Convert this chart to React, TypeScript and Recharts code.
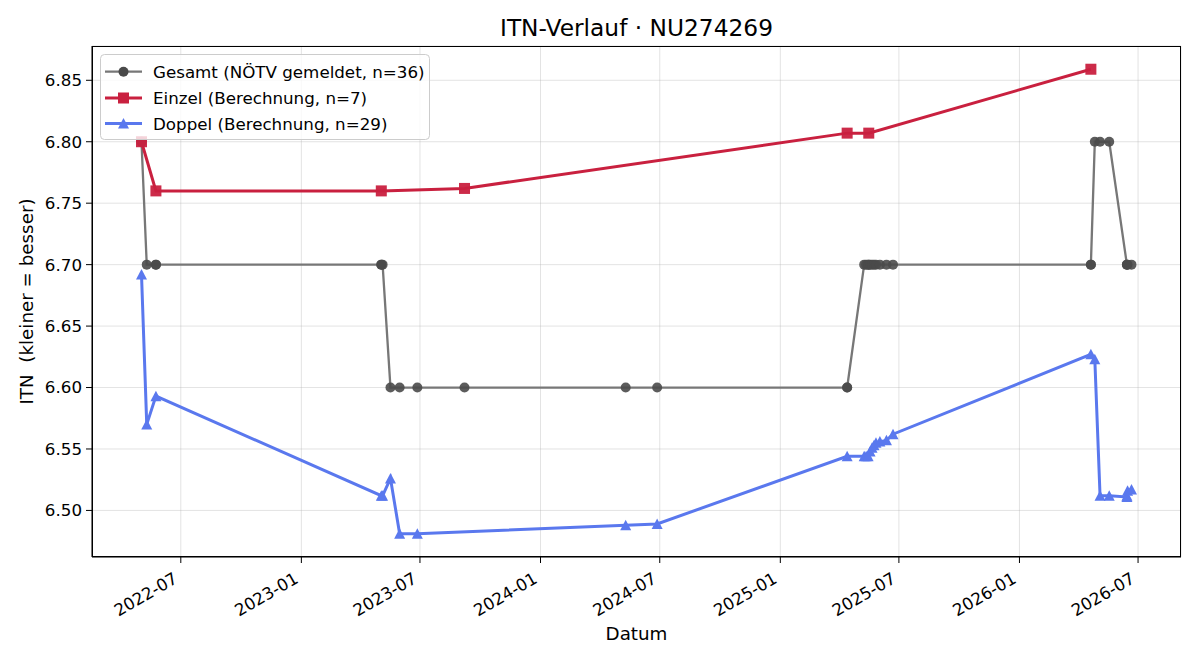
import { LineChart, Line, XAxis, YAxis, CartesianGrid } from "recharts";

// ITN history for player NU274269
const gesamtDates = [
  "2022-05-02", "2022-05-02", "2022-05-10", "2022-05-24", "2022-05-24",
  "2023-05-03", "2023-05-03", "2023-05-05", "2023-05-17", "2023-05-31",
  "2023-06-27", "2023-09-07", "2024-05-10", "2024-06-27", "2025-04-13",
  "2025-04-13", "2025-05-09", "2025-05-12", "2025-05-15", "2025-05-16",
  "2025-05-18", "2025-05-21", "2025-05-24", "2025-05-27", "2025-06-02",
  "2025-06-12", "2025-06-22", "2026-04-20", "2026-04-20", "2026-04-26",
  "2026-05-04", "2026-05-18", "2026-06-14", "2026-06-14", "2026-06-15",
  "2026-06-21",
];
const gesamtItn = [
  6.8, 6.8, 6.7, 6.7, 6.7,
  6.7, 6.7, 6.7, 6.6, 6.6,
  6.6, 6.6, 6.6, 6.6, 6.6,
  6.6, 6.7, 6.7, 6.7, 6.7,
  6.7, 6.7, 6.7, 6.7, 6.7,
  6.7, 6.7, 6.7, 6.7, 6.8,
  6.8, 6.8, 6.7, 6.7, 6.7,
  6.7,
];

const einzelDates = [
  "2022-05-02", "2022-05-24", "2023-05-03", "2023-09-07",
  "2025-04-13", "2025-05-16", "2026-04-20",
];
const einzelItn = [6.8, 6.76, 6.76, 6.762, 6.807, 6.807, 6.859];

const doppelDates = [
  "2022-05-02", "2022-05-10", "2022-05-24", "2023-05-03", "2023-05-05",
  "2023-05-17", "2023-05-31", "2023-06-27", "2024-05-10", "2024-06-27",
  "2025-04-13", "2025-05-09", "2025-05-12", "2025-05-15", "2025-05-18",
  "2025-05-21", "2025-05-24", "2025-05-27", "2025-06-02", "2025-06-12",
  "2025-06-22", "2026-04-20", "2026-04-26", "2026-05-04", "2026-05-18",
  "2026-06-14", "2026-06-14", "2026-06-15", "2026-06-21",
];
const doppelItn = [
  6.692, 6.57, 6.593, 6.512, 6.512,
  6.526, 6.481, 6.481, 6.488, 6.489,
  6.544, 6.544, 6.544, 6.544, 6.548,
  6.551, 6.553, 6.555, 6.556, 6.557,
  6.562, 6.627, 6.623, 6.512, 6.512,
  6.511, 6.512, 6.516, 6.517,
];

const xTickLabels = [
  "2022-07", "2023-01", "2023-07", "2024-01", "2024-07",
  "2025-01", "2025-07", "2026-01", "2026-07",
];
const yTickValues = [6.5, 6.55, 6.6, 6.65, 6.7, 6.75, 6.8, 6.85];

const FONT = "'DejaVu Sans', sans-serif";
const DAY = 86400000;
const toDay = (s: string) => Date.parse(s + "T00:00:00Z") / DAY;
const fmtMonth = (t: number) => new Date(Math.round(t) * DAY).toISOString().slice(0, 7);

const toSeries = (dates: string[], vals: number[]) =>
  dates.map((d, i) => ({ t: toDay(d), itn: vals[i] }));

const gesamt = toSeries(gesamtDates, gesamtItn);
const einzel = toSeries(einzelDates, einzelItn);
const doppel = toSeries(doppelDates, doppelItn);

// matplotlib-like 5% margins
const all = [...gesamt, ...einzel, ...doppel];
const tMin = Math.min(...all.map((p) => p.t));
const tMax = Math.max(...all.map((p) => p.t));
const vMin = Math.min(...all.map((p) => p.itn));
const vMax = Math.max(...all.map((p) => p.itn));
const xDomain = [tMin - (tMax - tMin) * 0.05, tMax + (tMax - tMin) * 0.05];
const yDomain = [vMin - (vMax - vMin) * 0.05, vMax + (vMax - vMin) * 0.05];
const xTicks = xTickLabels.map((l) => toDay(l + "-01"));

// plot box (page px)
const M = { top: 46, right: 19, left: 92, bottom: 103 };
const W = 1200;
const H = 660;

const GRAY = "#777777";
const GRAY_DOT = "#4a4a4a";
const RED = "#c9203f";
const BLUE = "#5a78ee";

function DateTick({ x, y, payload }: any) {
  return (
    <g transform={`translate(${x - 2},${y + 19})`}>
      <text textAnchor="end" transform="rotate(-30)" fontSize={16.7} fill="#000" fontFamily={FONT}>
        {fmtMonth(payload.value)}
      </text>
    </g>
  );
}

const grayDot = (p: any) => (
  <circle key={`g${p.index}`} cx={p.cx} cy={p.cy} r={5} fill={GRAY_DOT} fillOpacity={0.9} />
);
const redDot = (p: any) => (
  <rect key={`r${p.index}`} x={p.cx - 5.5} y={p.cy - 5.5} width={11} height={11} fill={RED} fillOpacity={0.95} />
);
const triPoints = (cx: number, cy: number) =>
  `${cx},${cy - 5.5} ${cx - 5.5},${cy + 5} ${cx + 5.5},${cy + 5}`;
const blueDot = (p: any) => (
  <polygon key={`b${p.index}`} points={triPoints(p.cx, p.cy)} fill={BLUE} />
);

export default function App() {
  return (
    <div style={{ position: "absolute", left: 0, top: 0, width: W, height: H, background: "#fff" }}>
      <LineChart width={W} height={H} margin={{ top: M.top, right: M.right, bottom: 0, left: 0 }}>
        <CartesianGrid stroke="#b0b0b0" strokeOpacity={0.35} />
        <XAxis
          type="number"
          dataKey="t"
          domain={xDomain}
          ticks={xTicks}
          allowDataOverflow
          height={M.bottom}
          tickSize={6}
          tickMargin={0}
          tick={<DateTick />}
          axisLine={{ stroke: "#000" }}
          tickLine={{ stroke: "#000" }}
        />
        <YAxis
          type="number"
          dataKey="itn"
          domain={yDomain}
          ticks={yTickValues}
          allowDataOverflow
          width={M.left}
          tickSize={6}
          tickMargin={4}
          tickFormatter={(v: number) => v.toFixed(2)}
          tick={{ fontSize: 16.7, fill: "#000", fontFamily: FONT }}
          axisLine={{ stroke: "#000" }}
          tickLine={{ stroke: "#000" }}
        />
        <Line data={gesamt} dataKey="itn" type="linear" stroke={GRAY} strokeWidth={2.3} dot={grayDot} activeDot={false} isAnimationActive={false} />
        <Line data={einzel} dataKey="itn" type="linear" stroke={RED} strokeWidth={3} dot={redDot} activeDot={false} isAnimationActive={false} />
        <Line data={doppel} dataKey="itn" type="linear" stroke={BLUE} strokeWidth={3} dot={blueDot} activeDot={false} isAnimationActive={false} />
      </LineChart>

      <svg width={W} height={H} style={{ position: "absolute", left: 0, top: 0, pointerEvents: "none" }} fontFamily={FONT}>
        {/* axes frame (top + right spines) */}
        <rect
          x={M.left + 0.5}
          y={M.top + 0.5}
          width={W - M.right - M.left - 1}
          height={H - M.bottom - M.top - 1}
          fill="none"
          stroke="#000"
          strokeWidth={1}
        />
        <text x={636.5} y={36} textAnchor="middle" fontSize={23.3} fill="#000">ITN-Verlauf · NU274269</text>
        <text x={636.5} y={640} textAnchor="middle" fontSize={18.3} fill="#000">Datum</text>
        <text x={32.5} y={301.5} textAnchor="middle" fontSize={18.3} fill="#000" transform="rotate(-90, 32.5, 301.5)" style={{ whiteSpace: "pre" }}>
          {"ITN  (kleiner = besser)"}
        </text>

        <g transform="translate(100,54)">
          <rect x={0.5} y={0.5} width={329} height={85} rx={4} fill="#fff" fillOpacity={0.8} stroke="#cccccc" />
          <line x1={5} x2={42} y1={17.7} y2={17.7} stroke={GRAY} strokeWidth={2.3} />
          <circle cx={23.5} cy={17.7} r={5} fill={GRAY_DOT} />
          <text x={53} y={23.8} fontSize={16.7} fill="#000">Gesamt (NÖTV gemeldet, n=36)</text>
          <line x1={5} x2={42} y1={44} y2={44} stroke={RED} strokeWidth={3} />
          <rect x={18} y={38.5} width={11} height={11} fill={RED} />
          <text x={53} y={50.1} fontSize={16.7} fill="#000">Einzel (Berechnung, n=7)</text>
          <line x1={5} x2={42} y1={69.5} y2={69.5} stroke={BLUE} strokeWidth={3} />
          <polygon points={triPoints(23.5, 69.5)} fill={BLUE} />
          <text x={53} y={75.6} fontSize={16.7} fill="#000">Doppel (Berechnung, n=29)</text>
        </g>
      </svg>
    </div>
  );
}
